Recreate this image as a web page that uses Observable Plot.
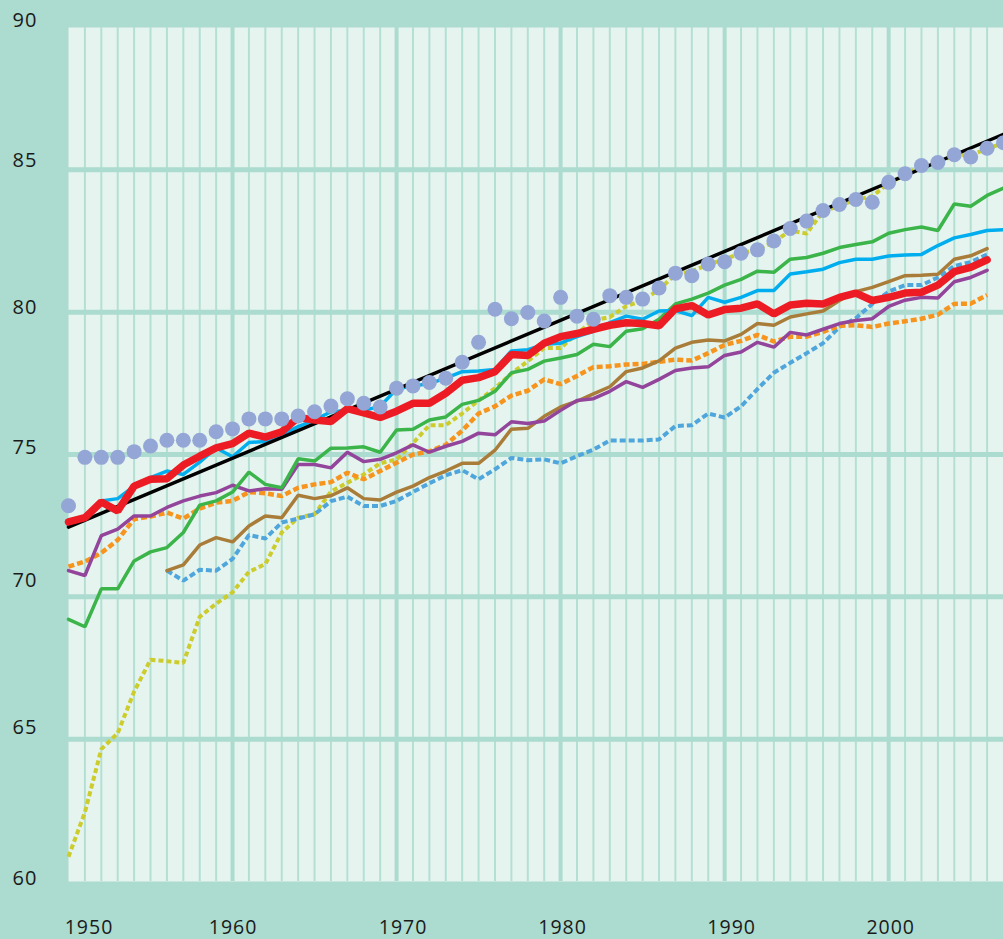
<!DOCTYPE html>
<html><head><meta charset="utf-8">
<script src="https://cdn.jsdelivr.net/npm/d3@7"></script>
<script src="https://cdn.jsdelivr.net/npm/@observablehq/plot@0.6"></script>
<style>
html,body{margin:0;padding:0;background:#acdbcf;}
#chart svg{display:block}
#chart text{letter-spacing:1px}
</style></head><body><div id="chart"></div>
<script>
// Record (best-practice) life expectancy, 1950–2007
const recordValues = [73.2,74.9,74.9,74.9,75.1,75.3,75.5,75.5,75.5,75.8,
  75.9,76.25,76.25,76.25,76.35,76.5,76.7,76.96,76.8,76.67,
  77.33,77.41,77.53,77.68,78.24,78.94,80.1,79.77,79.99,79.69,
  80.52,79.86,79.75,80.58,80.52,80.46,80.85,81.37,81.28,81.69,
  81.77,82.07,82.19,82.5,82.94,83.2,83.57,83.78,83.96,83.86,
  84.56,84.86,85.15,85.26,85.53,85.45,85.76,85.95];
// Linear trend
const trendYears = [1950, 2007];
const trendValues = [72.45, 86.25];
// Country series, from 1950
const redValues = [72.63,72.78,73.33,73.02,73.89,74.13,74.15,74.63,74.94,75.23,
  75.38,75.75,75.61,75.8,76.3,76.21,76.16,76.61,76.46,76.3,
  76.52,76.8,76.8,77.15,77.61,77.7,77.91,78.51,78.48,78.91,
  79.14,79.25,79.4,79.54,79.63,79.6,79.52,80.12,80.23,79.9,
  80.09,80.14,80.29,79.94,80.25,80.31,80.29,80.52,80.67,80.41,
  80.52,80.67,80.7,80.95,81.42,81.57,81.84];
const cyanValues = [72.49,72.73,73.37,73.45,73.89,74.19,74.42,74.3,74.73,75.23,
  74.92,75.42,75.46,75.69,75.98,76.21,76.5,76.55,76.55,76.69,
  77.3,77.41,77.49,77.68,77.91,77.93,77.99,78.64,78.68,78.87,
  78.91,79.14,79.33,79.63,79.86,79.75,80.04,80.06,79.88,80.52,
  80.35,80.52,80.76,80.76,81.34,81.42,81.51,81.74,81.86,81.86,
  81.97,82.01,82.03,82.34,82.61,82.73,82.87,82.9];
const greenValues = [69.21,68.95,70.28,70.28,71.26,71.58,71.73,72.26,73.22,73.37,
  73.68,74.38,73.95,73.83,74.85,74.77,75.22,75.23,75.27,75.08,
  75.86,75.89,76.21,76.32,76.76,76.9,77.22,77.87,77.99,78.28,
  78.39,78.51,78.87,78.79,79.33,79.42,79.75,80.29,80.46,80.67,
  80.95,81.15,81.44,81.4,81.86,81.92,82.07,82.27,82.38,82.47,
  82.77,82.9,82.99,82.87,83.8,83.72,84.1,84.36];
const purpleValues = [70.92,70.75,72.15,72.38,72.84,72.84,73.14,73.37,73.54,73.66,
  73.92,73.72,73.8,73.78,74.65,74.65,74.53,75.08,74.75,74.83,
  75.06,75.34,75.08,75.29,75.46,75.75,75.69,76.15,76.09,76.18,
  76.55,76.9,76.96,77.22,77.56,77.36,77.64,77.95,78.04,78.08,
  78.48,78.6,78.94,78.77,79.29,79.2,79.4,79.6,79.71,79.77,
  80.2,80.42,80.52,80.5,81.07,81.22,81.47];
const orangeValues = [71.06,71.24,71.54,72.0,72.73,72.82,72.96,72.75,73.1,73.31,
  73.37,73.68,73.64,73.54,73.83,73.95,74.03,74.36,74.13,74.42,
  74.71,75.0,75.11,75.34,75.84,76.44,76.69,77.07,77.24,77.64,
  77.47,77.76,78.07,78.1,78.16,78.18,78.26,78.33,78.3,78.56,
  78.85,78.99,79.2,78.97,79.14,79.14,79.31,79.52,79.54,79.48,
  79.6,79.68,79.77,79.91,80.29,80.3,80.6];
// from 1956
const brownValues = [70.92,71.12,71.82,72.08,71.93,72.49,72.84,72.78,73.57,73.45,
  73.55,73.83,73.45,73.4,73.68,73.89,74.19,74.42,74.69,74.69,
  75.15,75.89,75.92,76.34,76.67,76.87,77.13,77.38,77.91,78.04,
  78.29,78.74,78.94,79.02,78.99,79.22,79.6,79.54,79.83,79.94,
  80.04,80.41,80.72,80.87,81.07,81.28,81.3,81.33,81.86,81.98,82.23];
const blueValues = [70.92,70.57,70.95,70.92,71.33,72.17,72.05,72.61,72.75,72.9,
  73.36,73.52,73.19,73.19,73.37,73.68,73.99,74.27,74.45,74.13,
  74.48,74.88,74.8,74.83,74.69,74.94,75.17,75.49,75.49,75.49,
  75.53,76.0,76.03,76.44,76.3,76.69,77.3,77.87,78.22,78.56,
  78.91,79.48,79.79,80.29,80.72,80.95,80.95,81.22,81.62,81.76,82.03];
// from 1950
const yellowValues = [60.87,62.43,64.65,65.21,66.67,67.79,67.74,67.68,69.3,69.76,
  70.16,70.88,71.15,72.26,72.78,72.9,73.7,74.01,74.3,74.69,
  74.83,75.4,76.03,76.03,76.44,76.9,77.33,77.84,78.28,78.74,
  78.74,79.25,79.71,79.83,80.21,80.41,80.79,81.33,81.44,81.67,
  81.86,82.07,82.2,82.46,82.87,82.76,83.54,83.74,83.95,84.07,
  84.53,84.82,85.14,85.26,85.5,85.53,85.73,85.95];

const yTicks = [60,65,70,75,80,85,90];
const xTickLabels = [1950,1960,1970,1980,1990,2000];
const gridY = [65,70,75,80,85];
const majorYears = [1960,1970,1980,1990,2000];
const minorYears = d3.range(1951, 2007).filter(y => y % 10 !== 0);

const rows = (start, vals) => vals.map((v, i) => ({year: start + i, value: v}));
const trend = trendYears.map((y, i) => ({year: y, value: trendValues[i]}));

const outer = "#acdbcf", panel = "#e6f4ef";
// hand-placement nudges of the labels in the original (px)
const yLabelNudge = {60: 3, 65: -4.7, 70: -9.6, 75: -0.7, 80: 2.3, 85: -3.3, 90: -1};
const xLabelNudge = {1950: 20, 1960: 0, 1970: 6, 1980: 1.5, 1990: 6.5, 2000: 1.5};

const yLabelMarks = yTicks.map(t => Plot.text([t], {
  y: d => d, text: d => String(d), frameAnchor: "left", textAnchor: "start",
  dx: -56, lineAnchor: "bottom", dy: yLabelNudge[t], fontSize: 20
}));
const xLabelMarks = xTickLabels.map(t => Plot.text([t], {
  x: d => d, text: d => String(d), frameAnchor: "bottom", lineAnchor: "middle",
  dx: xLabelNudge[t] + 0.5, dy: 46.5, fontSize: 19.5
}));

const chart = Plot.plot({
  width: 1003, height: 939,
  marginLeft: 68, marginRight: 0, marginTop: 27, marginBottom: 58,
  style: {background: outer, fontFamily: "'Open Sans', sans-serif", overflow: "visible", color: "#1a1a1a"},
  x: {domain: [1950, 2007], axis: null},
  y: {domain: [60, 90], axis: null},
  marks: [
    Plot.frame({fill: panel, stroke: "none"}),
    Plot.ruleX(minorYears, {stroke: "#b4e0d4", strokeWidth: 2}),
    Plot.ruleX(majorYears, {stroke: outer, strokeWidth: 4}),
    Plot.ruleY(gridY, {stroke: outer, strokeWidth: 5}),
    Plot.line(rows(1950, yellowValues), {x: "year", y: "value", stroke: "#cccc2c", strokeWidth: 4, strokeDasharray: "5,3", strokeLinejoin: "miter", strokeLinecap: "butt"}),
    Plot.line(rows(1956, blueValues), {x: "year", y: "value", stroke: "#4fa6dc", strokeWidth: 4, strokeDasharray: "6,3", strokeLinejoin: "miter", strokeLinecap: "butt"}),
    Plot.line(rows(1950, orangeValues), {x: "year", y: "value", stroke: "#f7941d", strokeWidth: 4.5, strokeDasharray: "6,3", strokeLinejoin: "miter", strokeLinecap: "butt"}),
    Plot.line(rows(1956, brownValues), {x: "year", y: "value", stroke: "#a97d39", strokeWidth: 3.5, strokeLinejoin: "miter"}),
    Plot.line(rows(1950, purpleValues), {x: "year", y: "value", stroke: "#93449b", strokeWidth: 3.5, strokeLinejoin: "miter"}),
    Plot.line(rows(1950, greenValues), {x: "year", y: "value", stroke: "#3bb44a", strokeWidth: 3.5, strokeLinejoin: "miter"}),
    Plot.line(rows(1950, cyanValues), {x: "year", y: "value", stroke: "#00aeef", strokeWidth: 3.5, strokeLinejoin: "miter"}),
    Plot.line(trend, {x: "year", y: "value", stroke: "#000", strokeWidth: 3.5}),
    Plot.line(rows(1950, redValues), {x: "year", y: "value", stroke: "#ed1c24", strokeWidth: 7.5, strokeLinejoin: "miter"}),
    Plot.dot(rows(1950, recordValues), {x: "year", y: "value", r: 7.5, fill: "#93a6d6", stroke: "none"}),
    ...yLabelMarks,
    ...xLabelMarks
  ]
});
document.getElementById("chart").appendChild(chart);
</script></body></html>
